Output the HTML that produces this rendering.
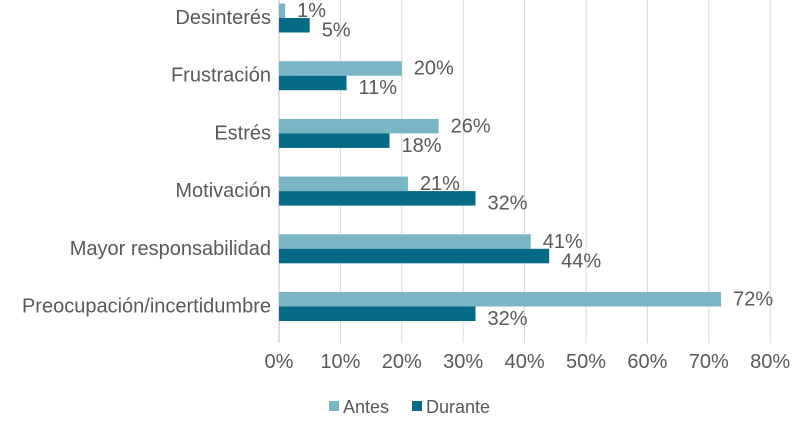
<!DOCTYPE html>
<html><head><meta charset="utf-8"><style>
body{margin:0;background:#fff;}
svg text{font-family:"Liberation Sans",sans-serif;fill:#595959;}
</style></head><body>
<svg id="c" width="802" height="424"></svg>
<script>
const categories=["Desinterés","Frustración","Estrés","Motivación","Mayor responsabilidad","Preocupación/incertidumbre"];
const antes=[1,20,26,21,41,72];
const durante=[5,11,18,32,44,32];
const ticks=[0,10,20,30,40,50,60,70,80];
const ns="http://www.w3.org/2000/svg";
const svg=document.getElementById("c");
const x0=279,pxPer=6.14,first=18,band=57.7,bh=14.5;
const X=v=>x0+v*pxPer;
function el(t,a){const e=document.createElementNS(ns,t);for(const k in a)e.setAttribute(k,a[k]);svg.appendChild(e);return e;}
ticks.forEach(t=>{
 const g=el("line",{x1:X(t),x2:X(t),y1:0,y2:343,stroke:t===0?"#bfbfbf":"#d9d9d9","stroke-width":1});
 
 
 const l=el("text",{x:X(t),y:368,"text-anchor":"middle","font-size":20});
 l.textContent=t+"%";
 
 
});
categories.forEach((c,i)=>{
 const cy=first+band*i;
 const t=el("text",{x:271,y:cy+6,"text-anchor":"end","font-size":20});
 t.textContent=c;
 
 
 const a=el("rect",{x:x0,y:cy-bh,width:X(antes[i])-x0,height:bh,fill:"#7ab5c5"});
 
 
 const d=el("rect",{x:x0,y:cy,width:X(durante[i])-x0,height:bh,fill:"#046a85"});
 
 
 const la=el("text",{x:X(antes[i])+12,y:cy-1,"font-size":20});
 la.textContent=antes[i]+"%";
 
 
 const ld=el("text",{x:X(durante[i])+12,y:cy+bh+4,"font-size":20});
 ld.textContent=durante[i]+"%";
 
 
});
const s1=el("rect",{x:329,y:401,width:10,height:10,fill:"#7ab5c5"});


const t1=el("text",{x:343,y:413,"font-size":18});t1.textContent="Antes";


const s2=el("rect",{x:412,y:401,width:10,height:10,fill:"#046a85"});


const t2=el("text",{x:426,y:413,"font-size":18});t2.textContent="Durante";


</script>
</body></html>
